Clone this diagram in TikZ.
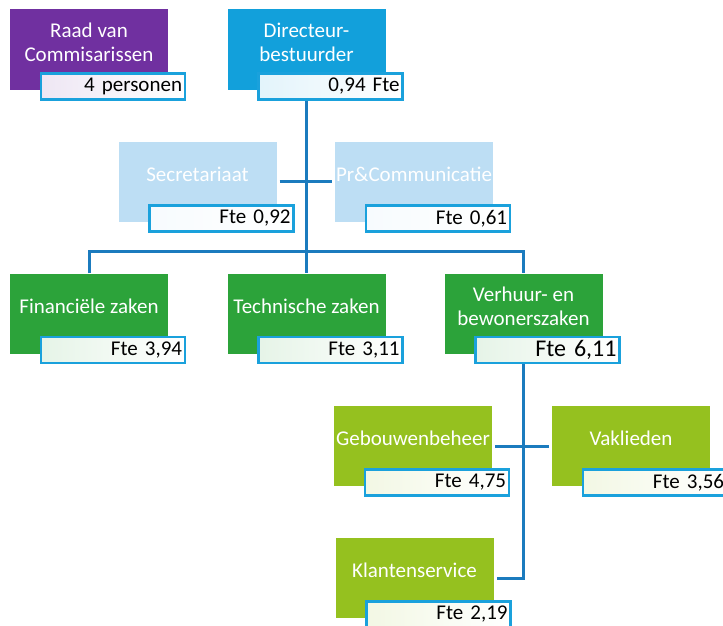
\documentclass[tikz,border=0pt]{standalone}
\usepackage{fontspec}
\setmainfont{Carlito}
\usetikzlibrary{positioning,calc}

\definecolor{rvcpurple}{HTML}{7030A0}
\definecolor{dirblue}{HTML}{12A0DB}
\definecolor{staffblue}{HTML}{BDDEF4}
\definecolor{deptgreen}{HTML}{2CA33A}
\definecolor{teamgreen}{HTML}{95C11F}
\definecolor{linkblue}{HTML}{1B7BBE}
\definecolor{lblborder}{HTML}{1AA1DC}

\begin{document}
\begin{tikzpicture}[x=1pt, y=1pt,
  unit/.style={minimum width=158pt, minimum height=80pt, inner sep=0pt,
    text=white, align=center, text depth=15pt, font=\fontsize{21}{24}\selectfont},
  fte/.style={draw=lblborder, line width=2.5pt, anchor=north west,
    text width=138pt, inner xsep=3pt, inner ysep=0pt, minimum height=26pt,
    align=right, text=black, font=\fontsize{21}{22}\selectfont},
  link/.style={draw=linkblue, line width=3pt}]
  % page 723 x 625, 1 unit = 1 px of the reference
  \useasboundingbox (0,0) rectangle (723,625);
  % top row
  \node[unit, fill=rvcpurple, minimum height=81pt] (rvc) at (89,575.5) {Raad van\\Commisarissen};
  \node[unit, fill=dirblue, minimum height=81pt] (dir) at (306.5,575.5) {Directeur-\\bestuurder};
  % staff
  \node[unit, fill=staffblue] (sec) at (197.5,443) {Secretariaat};
  \node[unit, fill=staffblue] (pr) at (414,443) {Pr\&Communicatie};
  % departments
  \node[unit, fill=deptgreen] (fin) at (89,311.5) {Financiële zaken};
  \node[unit, fill=deptgreen] (tec) at (306.5,311.5) {Technische zaken};
  \node[unit, fill=deptgreen] (ver) at (523.5,311.5) {Verhuur- en\\bewonerszaken};
  % teams under Verhuur- en bewonerszaken
  \node[unit, fill=teamgreen] (geb) at (413,179) {Gebouwenbeheer};
  \node[unit, fill=teamgreen] (vak) at (631,179) {Vaklieden};
  \node[unit, fill=teamgreen] (kla) at (414.5,47) {Klantenservice};
  % connectors
  \coordinate (bus) at (306.5,373);
  \draw[link] (dir.south) -- (tec.north);
  \draw[link] (fin.north) |- (bus) -| (ver.north);
  \draw[link, shorten <=3pt, shorten >=3pt] (sec.east) -- (pr.west);
  \draw[link, shorten <=3pt, shorten >=3pt] (geb.east) -- (vak.west);
  \draw[link, shorten >=3pt] (ver.south) |- (kla.east);
  % fte labels
  \foreach \n/\c/\t in {rvc/rvcpurple/4 personen, dir/dirblue/{0,94 Fte},
      sec/staffblue/{Fte 0,92}, pr/staffblue/{Fte 0,61},
      fin/deptgreen/{Fte 3,94}, tec/deptgreen/{Fte 3,11},
      geb/teamgreen/{Fte 4,75}, vak/teamgreen/{Fte 3,56}, kla/teamgreen/{Fte 2,19}} {
    \node[fte, left color=\c!12, right color=white] (\n-fte)
      at ([shift={(30,18)}]\n.south west) {\t};
  }
  \node[fte, left color=deptgreen!12, right color=white, font=\fontsize{24}{24}\selectfont] (ver-fte)
    at ([shift={(30,18)}]ver.south west) {Fte 6,11};
\end{tikzpicture}
\end{document}
